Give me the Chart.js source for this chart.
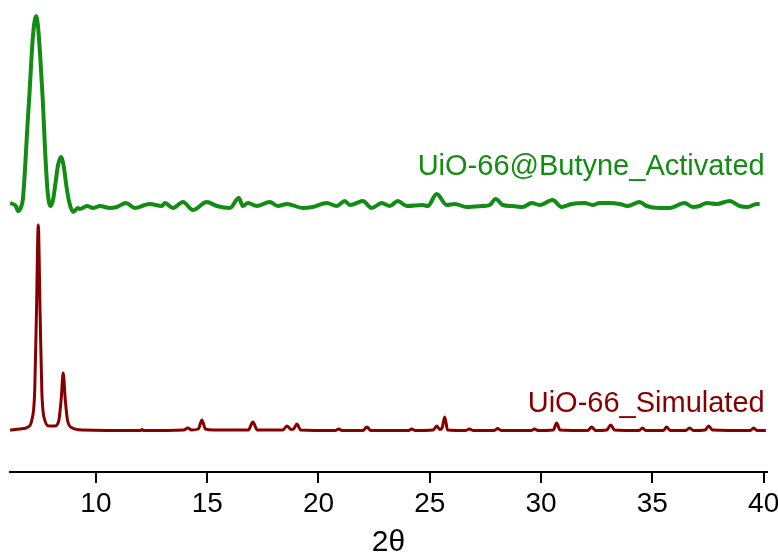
<!DOCTYPE html>
<html>
<head>
<meta charset="utf-8">
<script src="https://cdn.jsdelivr.net/npm/chart.js@4"></script>
<style>
  html, body { margin: 0; padding: 0; background: #fff; }
  #wrap { width: 778px; height: 559px; }
</style>
</head>
<body>
<div id="wrap"><canvas id="xrd"></canvas></div>
<script>
// 2-theta positions and intensities (intensity above each baseline)
const activatedX = [6.14, 6.40, 6.50, 6.62, 6.72, 6.82, 6.92, 7.02, 7.12, 7.22, 7.31, 7.40, 7.50, 7.61, 7.72, 7.82, 7.90, 7.97,
  8.08, 8.16, 8.30, 8.43, 8.56, 8.68, 8.80, 8.98, 9.19, 9.28, 9.60, 9.87, 10.18, 10.63, 10.94, 11.35, 11.75, 12.20, 12.42,
  12.96, 13.10, 13.46, 13.91, 14.36, 14.98, 15.43, 16.02, 16.42, 16.60, 16.83, 17.23, 17.81, 18.17, 18.58, 19.30, 19.74,
  20.37, 20.82, 21.18, 21.41, 21.72, 21.99, 22.39, 22.84, 23.20, 23.56, 23.97, 24.68, 24.91, 25.31, 25.76, 26.12, 26.66,
  27.38, 27.69, 27.96, 28.28, 28.72, 29.17, 29.58, 29.94, 30.52, 30.92, 31.37, 31.96, 32.32, 32.63, 33.08, 33.53, 33.89,
  34.43, 34.74, 35.33, 35.77, 36.45, 36.81, 37.12, 37.44, 37.89, 38.47, 38.92, 39.28, 39.68, 39.82];
const activatedY = [4, 1, -4, -1, 8, 40, 80, 115, 155, 182, 191, 180, 150, 108, 55, 18, 4, 1,
  8, 20, 42, 50, 40, 20, 5, -5, -1, -2, 1, -1, 1, -1, 0, 4, -1, 2, 3,
  1, 4, -1, 5, -3, 5, 1, -1, 9, 1, 4, 1, 5, 1, 3, -1, 0,
  4, 1, 6, 2, 4, 6, -1, 4, 1, 6, 1, 2, 1, 13, 2, 3, 0,
  1, 2, 8, 2, 1, 0, 4, 2, 7, 0, 3, 4, 2, 4, 4, 3, 1,
  5, 1, -1, -1, 4, 0, 1, 4, 3, 6, 1, 0, 3, 3];

const simulatedX = [6.14, 6.6, 6.95, 7.12, 7.25, 7.33, 7.41, 7.49, 7.57, 7.70, 7.9, 8.15, 8.33, 8.44, 8.53, 8.62, 8.73, 8.95, 9.4,
  12.0, 12.07, 12.15, 13.95, 14.13, 14.3, 14.6, 14.76, 14.92, 15.3, 16.85, 17.05, 17.25, 18.4, 18.58, 18.78, 18.88, 19.03, 19.2,
  20.75, 20.91, 21.05, 22.0, 22.17, 22.35, 24.05, 24.19, 24.35, 25.15, 25.31, 25.45, 25.55, 25.67, 25.8, 26.6, 26.79, 26.95,
  27.9, 28.05, 28.2, 29.55, 29.71, 29.85, 30.55, 30.70, 30.85, 32.1, 32.27, 32.45, 32.95, 33.13, 33.3, 34.4, 34.56, 34.7,
  35.5, 35.64, 35.8, 36.5, 36.67, 36.85, 37.37, 37.53, 37.7, 39.4, 39.55, 39.7, 40.1];
const simulatedY = [1, 2, 4, 11, 40, 120, 206, 120, 40, 11, 5, 5, 10, 32, 58, 32, 10, 3, 1,
  0.5, 1.5, 0.5, 1, 3, 1, 2, 11, 2, 1, 1, 9, 1, 1, 5, 1.5, 2, 7, 1,
  0.5, 2, 0.5, 0.5, 4, 0.5, 0.5, 2, 0.5, 1, 5, 1.5, 3, 14, 1, 0.5, 2, 0.5,
  0.5, 2.5, 0.5, 0.5, 2, 0.5, 1, 8, 1, 0.5, 4, 0.5, 1, 6, 1, 0.5, 3, 0.5,
  0.5, 4, 0.5, 0.5, 3, 0.5, 1, 5, 1, 0.5, 3, 0.5, 0.5];

const activatedOffset = 265;
const simulatedOffset = 41;

const xTicks = [10, 15, 20, 25, 30, 35, 40];
const seriesNames = ['UiO-66@Butyne_Activated', 'UiO-66_Simulated'];

const green = '#128c12';
const darkRed = '#870000';

function toPoints(xs, ys, offset) {
    return xs.map((x, i) => ({ x: x, y: ys[i] + offset }));
}

// series names at the right end of each trace, plus outward tick marks
const traceLabels = {
    id: 'traceLabels',
    afterDatasetsDraw(chart) {
        const { ctx, chartArea, scales: { x, y } } = chart;
        const right = x.getPixelForValue(40);
        ctx.save();
        ctx.strokeStyle = '#000';
        ctx.lineWidth = 2;
        xTicks.forEach(v => {
            const px = Math.round(x.getPixelForValue(v));
            ctx.beginPath();
            ctx.moveTo(px, chartArea.bottom);
            ctx.lineTo(px, chartArea.bottom + 11);
            ctx.stroke();
        });
        ctx.font = '29px "Liberation Sans", Arial, sans-serif';
        ctx.textAlign = 'right';
        ctx.textBaseline = 'middle';
        ctx.fillStyle = green;
        ctx.fillText(seriesNames[0], right + 1, y.getPixelForValue(activatedOffset + 40));
        ctx.fillStyle = darkRed;
        ctx.fillText(seriesNames[1], right + 1, y.getPixelForValue(simulatedOffset + 27));
        ctx.restore();
    }
};

new Chart(document.getElementById('xrd'), {
    type: 'line',
    data: {
        datasets: [{
            label: seriesNames[0],
            data: toPoints(activatedX, activatedY, activatedOffset),
            borderColor: green,
            borderWidth: 4,
            pointRadius: 0,
            fill: false,
            cubicInterpolationMode: 'monotone'
        }, {
            label: seriesNames[1],
            data: toPoints(simulatedX, simulatedY, simulatedOffset),
            borderColor: darkRed,
            borderWidth: 3,
            pointRadius: 0,
            fill: false,
            cubicInterpolationMode: 'monotone'
        }]
    },
    options: {
        responsive: true,
        maintainAspectRatio: false,
        animation: false,
        layout: { padding: { left: 10, right: 11, top: 0, bottom: 0 } },
        plugins: {
            legend: { display: false },
            tooltip: { enabled: false }
        },
        scales: {
            x: {
                type: 'linear',
                min: 6.14,
                max: 40.15,
                afterBuildTicks: scale => { scale.ticks = xTicks.map(v => ({ value: v })); },
                afterFit: scale => {
                    scale.height = 87;
                    scale.paddingLeft = 0;
                    scale.paddingRight = 0;
                },
                border: { display: true, color: '#000', width: 2 },
                grid: { display: true, drawOnChartArea: false, drawTicks: true, tickLength: 11, color: '#000', lineWidth: 2 },
                ticks: {
                    color: '#000',
                    padding: 4,
                    maxRotation: 0,
                    autoSkip: false,
                    font: { family: '"Liberation Sans", Arial, sans-serif', size: 28 }
                },
                title: {
                    display: true,
                    text: '2θ',
                    color: '#000',
                    padding: { top: 0, bottom: 1 },
                    font: { family: '"Liberation Sans", Arial, sans-serif', size: 30, lineHeight: 1 }
                }
            },
            y: {
                display: false,
                min: 0,
                max: 472
            }
        }
    },
    plugins: [traceLabels]
});
</script>
</body>
</html>
